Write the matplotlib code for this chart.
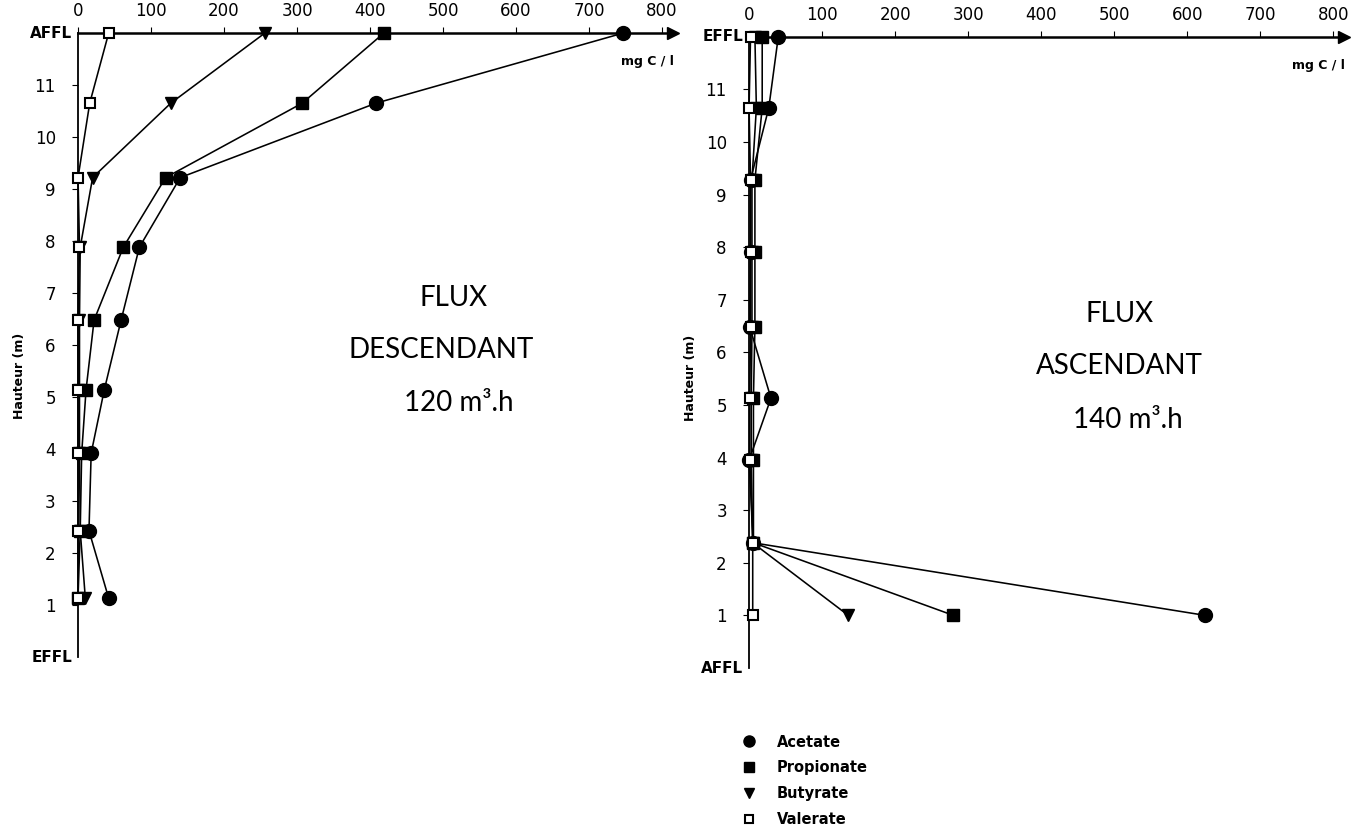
import matplotlib.pyplot as plt
from matplotlib.lines import Line2D

# heights (m) of the sampling points, top of the column first
heights_desc = [12, 10.65, 9.22, 7.88, 6.48, 5.14, 3.92, 2.43, 1.13]
heights_asc = [12, 10.65, 9.28, 7.91, 6.48, 5.13, 3.95, 2.38, 1.0]

# concentrations in mg C / l, flux descendant (left)
acetate_desc = [747, 408, 140, 84, 59, 36, 18, 15, 42]
propionate_desc = [419, 307, 120, 62, 22, 11, 5, 3, 0]
butyrate_desc = [256, 127, 20, 3, 2, 2, 2, 3, 10]
valerate_desc = [42, 16, 0, 2, 0, 0, 0, 0, 0]

# flux ascendant (right)
acetate_asc = [40, 27, 2, 2, 1, 30, 0, 6, 625]
propionate_asc = [18, 18, 8, 8, 8, 6, 6, 6, 280]
butyrate_asc = [8, 10, 4, 4, 4, 3, 3, 5, 136]
valerate_asc = [2, 0, 2, 2, 2, 1, 1, 5, 5]

series_names = ['Acetate', 'Propionate', 'Butyrate', 'Valerate']
x_ticks = [0, 100, 200, 300, 400, 500, 600, 700, 800]
y_ticks = [1, 2, 3, 4, 5, 6, 7, 8, 9, 10, 11]

styles = {
    'Acetate': dict(marker='o', ms=10, mfc='black'),
    'Propionate': dict(marker='s', ms=9, mfc='black'),
    'Butyrate': dict(marker='v', ms=9, mfc='black'),
    'Valerate': dict(marker='s', ms=7, mfc='white', mew=1.5),
}

big_font = ['Lato', 'DejaVu Sans']


def draw_panel(ax, heights, data, top_label, bottom_label):
    for name, vals in zip(series_names, data):
        ax.plot(vals, heights, color='black', lw=1.15, mec='black',
                clip_on=False, zorder=3, **styles[name])

    ax.set_xlim(0, 815)
    ax.set_ylim(0, 12)
    ax.spines['right'].set_visible(False)
    ax.spines['bottom'].set_visible(False)
    ax.spines['top'].set_linewidth(1.8)
    ax.spines['left'].set_linewidth(1.3)
    ax.xaxis.tick_top()
    ax.set_xticks(x_ticks)
    ax.set_yticks(y_ticks)
    ax.tick_params(axis='x', direction='out', length=4, pad=5, labelsize=12)
    ax.tick_params(axis='y', direction='out', length=4, pad=12, labelsize=12)
    # arrow at the end of the concentration axis
    ax.plot([1], [1], marker='>', ms=8, color='black',
            transform=ax.transAxes, clip_on=False)
    ax.text(780, 11.45, 'mg C / l', ha='center', va='center',
            fontsize=9, fontweight='bold')
    ax.annotate(top_label, xy=(0, 12), xytext=(-4, 0),
                textcoords='offset points', ha='right', va='center',
                fontsize=11, fontweight='bold')
    ax.annotate(bottom_label, xy=(0, 0), xytext=(-4, 0),
                textcoords='offset points', ha='right', va='center',
                fontsize=11, fontweight='bold')
    ax.set_ylabel('Hauteur (m)', fontsize=9, fontweight='bold', labelpad=2)


fig = plt.figure(figsize=(13.57, 8.25), dpi=100)

ax1 = fig.add_axes([0.0575, 0.2036, 0.4385, 0.7564])
draw_panel(ax1, heights_desc,
           [acetate_desc, propionate_desc, butyrate_desc, valerate_desc],
           'AFFL', 'EFFL')
ax1.yaxis.set_label_coords(-0.087, 0.45)

ax2 = fig.add_axes([0.552, 0.1903, 0.4385, 0.765])
draw_panel(ax2, heights_asc,
           [acetate_asc, propionate_asc, butyrate_asc, valerate_asc],
           'EFFL', 'AFFL')
ax2.yaxis.set_label_coords(-0.087, 0.46)

fig.text(0.334, 0.639, 'FLUX', ha='center', va='center', fontsize=20,
         family=big_font)
fig.text(0.325, 0.576, 'DESCENDANT', ha='center', va='center', fontsize=20,
         family=big_font)
fig.text(0.338, 0.511, '120 m³.h', ha='center', va='center', fontsize=20,
         family=big_font)

fig.text(0.825, 0.620, 'FLUX', ha='center', va='center', fontsize=20,
         family=big_font)
fig.text(0.825, 0.556, 'ASCENDANT', ha='center', va='center', fontsize=20,
         family=big_font)
fig.text(0.831, 0.491, '140 m³.h', ha='center', va='center', fontsize=20,
         family=big_font)

handles = [Line2D([], [], ls='none', color='black', mec='black', **styles[n])
           for n in series_names]
for h in handles:
    h.set_markersize(h.get_markersize() * 0.8)
fig.legend(handles, series_names, loc='upper left',
           bbox_to_anchor=(0.538, 0.122), frameon=False,
           prop={'weight': 'bold', 'size': 10.5}, handletextpad=1.3,
           labelspacing=0.75, handlelength=1.2, borderpad=0.2)

fig.savefig('out.png', dpi=100)
